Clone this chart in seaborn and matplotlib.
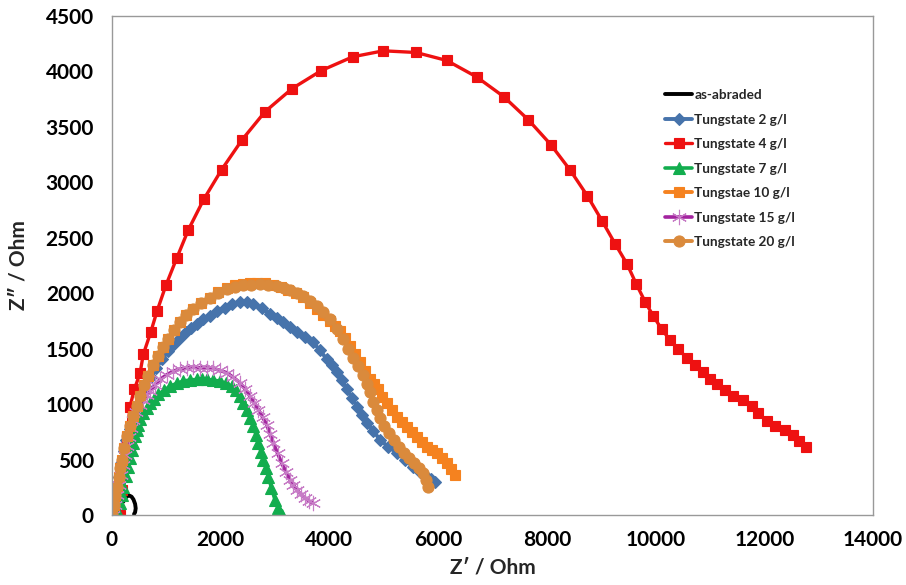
import matplotlib
matplotlib.use("Agg")
import matplotlib.pyplot as plt
import seaborn as sns

# ---------------- data ----------------
abraded_x = [208, 240, 280, 320, 360, 395, 425, 436, 425, 405]
abraded_y = [120, 150, 170, 175, 165, 140, 100, 60, 25, 8]

w2_x = [0, 37, 74, 120, 166, 212, 258, 322, 386, 460, 534, 625, 717, 809, 920, 1030,
        1141, 1251, 1361, 1453, 1564, 1674, 1803, 1932, 2079, 2208, 2355, 2484, 2594,
        2760, 2907, 3036, 3146, 3275, 3403, 3551, 3698, 3827, 3955, 4047, 4139, 4231,
        4323, 4415, 4507, 4599, 4691, 4802, 4930, 5078, 5243, 5390, 5538, 5666, 5795,
        5869, 5942]
w2_y = [0, 118, 226, 344, 471, 579, 679, 779, 878, 969, 1059, 1150, 1240, 1322, 1403,
        1476, 1539, 1594, 1648, 1684, 1720, 1766, 1795, 1838, 1871, 1901, 1925, 1922,
        1905, 1865, 1811, 1775, 1738, 1693, 1648, 1603, 1557, 1485, 1403, 1349, 1286,
        1213, 1132, 1059, 978, 905, 833, 761, 679, 616, 561, 498, 435, 389, 344, 326, 299]

w4_x = [147, 184, 221, 276, 331, 410, 515, 576, 712, 828, 993, 1190, 1404, 1687, 2018,
        2397, 2815, 3312, 3851, 4428, 4991, 5593, 6158, 6710, 7206, 7659, 8071, 8432,
        8744, 9015, 9254, 9475, 9646, 9811, 9958, 10113, 10266, 10418, 10573, 10725,
        10867, 11001, 11136, 11277, 11430, 11614, 11769, 11890, 12045, 12197, 12381,
        12523, 12644, 12767]
w4_y = [0, 226, 453, 706, 978, 1132, 1277, 1449, 1648, 1838, 2073, 2315, 2571, 2846,
        3115, 3386, 3637, 3845, 4008, 4132, 4186, 4171, 4099, 3950, 3773, 3564, 3341,
        3108, 2879, 2653, 2447, 2264, 2082, 1920, 1795, 1675, 1578, 1494, 1419, 1349,
        1288, 1229, 1177, 1126, 1071, 1041, 981, 921, 845, 800, 770, 724, 664, 609]

w7_x = [55, 110, 147, 175, 208, 258, 300, 331, 362, 392, 423, 451, 484, 524, 576, 635,
        699, 773, 852, 957, 1067, 1187, 1312, 1435, 1558, 1647, 1742, 1867, 1987, 2097,
        2202, 2281, 2355, 2419, 2478, 2539, 2600, 2649, 2692, 2741, 2784, 2833, 2876,
        2934, 2999, 3054, 3122]
w7_y = [0, 18, 109, 181, 256, 353, 437, 516, 589, 652, 709, 770, 815, 869, 921, 969,
        1011, 1050, 1087, 1123, 1162, 1186, 1207, 1218, 1222, 1222, 1222, 1216, 1207,
        1186, 1162, 1123, 1071, 1014, 951, 878, 800, 724, 649, 570, 498, 426, 347, 244,
        136, 63, 0]

w10_x = [0, 28, 55, 86, 120, 147, 178, 221, 270, 331, 392, 451, 515, 589, 668, 754, 852,
         938, 1036, 1141, 1251, 1361, 1496, 1637, 1803, 1950, 2116, 2263, 2410, 2539,
         2668, 2815, 2962, 3109, 3238, 3385, 3514, 3643, 3771, 3882, 4011, 4103, 4195,
         4287, 4379, 4471, 4563, 4655, 4747, 4820, 4894, 4967, 5059, 5151, 5243, 5335,
         5427, 5519, 5611, 5703, 5795, 5887, 5979, 6071, 6163, 6237, 6310]
w10_y = [0, 91, 181, 256, 344, 426, 498, 607, 709, 806, 890, 987, 1071, 1168, 1252,
         1349, 1433, 1512, 1584, 1666, 1736, 1802, 1856, 1910, 1960, 2010, 2045, 2070,
         2080, 2088, 2090, 2088, 2075, 2052, 2030, 1998, 1962, 1910, 1856, 1802, 1747,
         1702, 1657, 1593, 1521, 1449, 1376, 1295, 1222, 1177, 1132, 1068, 1014, 951,
         887, 842, 797, 751, 706, 661, 616, 589, 561, 516, 471, 417, 362]

w15_x = [18, 55, 92, 129, 166, 202, 239, 276, 313, 350, 386, 442, 506, 576, 635, 699,
         791, 883, 1003, 1128, 1251, 1374, 1496, 1619, 1742, 1864, 1987, 2110, 2235,
         2355, 2447, 2539, 2612, 2692, 2769, 2846, 2907, 2968, 3045, 3122, 3201, 3275,
         3335, 3398, 3477, 3551, 3624, 3704]
w15_y = [0, 91, 181, 272, 362, 453, 543, 625, 706, 788, 860, 933, 996, 1041, 1082,
         1116, 1172, 1222, 1263, 1297, 1317, 1328, 1331, 1328, 1326, 1322, 1304, 1283,
         1240, 1192, 1136, 1071, 1014, 951, 883, 815, 733, 649, 557, 468, 389, 317, 272,
         226, 186, 151, 127, 106]

w20_x = [0, 28, 55, 86, 120, 147, 178, 221, 270, 331, 392, 451, 515, 589, 668, 754, 852,
         938, 1036, 1141, 1251, 1361, 1496, 1637, 1803, 1950, 2110, 2263, 2416, 2557,
         2723, 2870, 3030, 3164, 3275, 3403, 3519, 3643, 3766, 3882, 4011, 4139, 4251,
         4343, 4435, 4527, 4619, 4692, 4747, 4802, 4875, 4930, 5004, 5096, 5188, 5280,
         5372, 5464, 5556, 5648, 5721, 5777, 5813]
w20_y = [0, 91, 181, 256, 344, 426, 498, 607, 709, 806, 890, 987, 1071, 1168, 1252,
         1349, 1433, 1512, 1584, 1666, 1736, 1802, 1856, 1910, 1955, 2005, 2040, 2060,
         2070, 2078, 2082, 2075, 2062, 2045, 2030, 2005, 1976, 1929, 1883, 1829, 1766,
         1675, 1584, 1494, 1413, 1340, 1259, 1177, 1105, 1023, 951, 878, 806, 742, 679,
         616, 561, 516, 471, 426, 380, 317, 254]

labels = ["as-abraded", "Tungstate 2 g/l", "Tungstate 4 g/l", "Tungstate 7 g/l",
          "Tungstae 10 g/l", "Tungstate 15 g/l", "Tungstate 20 g/l"]
x_ticks = [0, 2000, 4000, 6000, 8000, 10000, 12000, 14000]
y_ticks = [0, 500, 1000, 1500, 2000, 2500, 3000, 3500, 4000, 4500]

# ---------------- styling ----------------
sns.set_style("white")
plt.rcParams["font.family"] = ["Lato", "DejaVu Sans"]
plt.rcParams["font.weight"] = "bold"

fig = plt.figure(figsize=(9.06, 5.85), dpi=100)
ax = fig.add_axes([112 / 906, 1 - 515 / 585, 761 / 906, 499 / 585])

series = [
    (abraded_x, abraded_y, dict(color="#000000", marker=None, lw=2.8)),
    (w2_x, w2_y, dict(color="#4673AB", marker="D", markersize=6.5, lw=2.8)),
    (w4_x, w4_y, dict(color="#EE1111", marker="s", markersize=7, lw=2.4)),
    (w7_x, w7_y, dict(color="#12AD4E", marker="^", markersize=8, lw=2.6)),
    (w10_x, w10_y, dict(color="#F5821F", marker="s", markersize=7.5, lw=2.8)),
    (w15_x, w15_y, dict(color="#A3249F", marker=(6, 2, 0), markersize=11, lw=2.6)),
    (w20_x, w20_y, dict(color="#DA8A3C", marker="o", markersize=8, lw=2.8)),
]

for (xs, ys, st), lab in zip(series, labels):
    mec = st["color"]
    mew = 0.8
    if lab == "Tungstate 15 g/l":
        mec = "#C77CC6"
    sns.lineplot(x=xs, y=ys, sort=False, estimator=None, ax=ax, label=lab,
                 color=st["color"], marker=st["marker"],
                 markersize=st.get("markersize", 0), linewidth=st["lw"],
                 markeredgecolor=mec, markeredgewidth=mew)

ax.set_xlim(0, 14000)
ax.set_ylim(0, 4500)
ax.set_xticks(x_ticks)
ax.set_yticks(y_ticks)
ax.set_xticklabels([str(v) for v in x_ticks])
ax.set_yticklabels([str(v) for v in y_ticks])

for sp in ax.spines.values():
    sp.set_visible(True)
    sp.set_color("#999999")
    sp.set_linewidth(1.0)

ax.tick_params(axis="both", which="major", direction="out", length=5, width=1,
               color="#999999", labelsize=15, labelcolor="black")
ax.tick_params(axis="y", pad=8)
ax.tick_params(axis="x", pad=6)
for t in ax.get_xticklabels() + ax.get_yticklabels():
    t.set_fontweight("bold")

ax.set_xlabel("Z\u2032 / Ohm", fontsize=15, fontweight="bold", labelpad=5)
ax.set_ylabel("Z\u2033 / Ohm", fontsize=15, fontweight="bold", labelpad=12)
ax.grid(False)

leg = ax.legend(loc="upper left", bbox_to_anchor=(665 / 906, 1 - 89 / 585),
                bbox_transform=fig.transFigure, frameon=False, borderpad=0,
                borderaxespad=0, handlelength=2.0, handletextpad=0.15,
                labelspacing=0.92, prop={"size": 9.8, "weight": "bold"})

fig.savefig("out.png", dpi=100)
